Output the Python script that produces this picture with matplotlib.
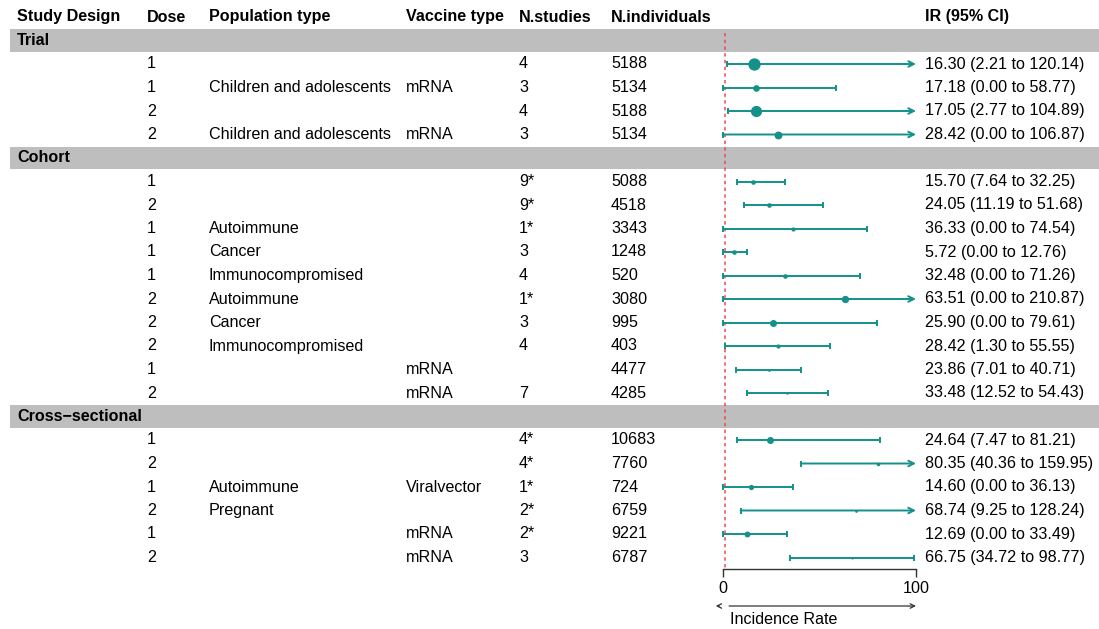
import matplotlib
matplotlib.use('Agg')
import matplotlib.pyplot as plt
import numpy as np

plt.rcParams['font.family'] = ['Liberation Sans', 'DejaVu Sans']

# ---------------- data ----------------
headers = ['Study Design', 'Dose', 'Population type', 'Vaccine type',
           'N.studies', 'N.individuals', 'IR (95% CI)']
groups = ['Trial', 'Cohort', 'Cross\u2212sectional']
group_sizes = [4, 10, 6]

dose = [1, 1, 2, 2,
        1, 2, 1, 1, 1, 2, 2, 2, 1, 2,
        1, 2, 1, 2, 1, 2]
population = ['', 'Children and adolescents', '', 'Children and adolescents',
              '', '', 'Autoimmune', 'Cancer', 'Immunocompromised',
              'Autoimmune', 'Cancer', 'Immunocompromised', '', '',
              '', '', 'Autoimmune', 'Pregnant', '', '']
vaccine = ['', 'mRNA', '', 'mRNA',
           '', '', '', '', '', '', '', '', 'mRNA', 'mRNA',
           '', '', 'Viralvector', '', 'mRNA', 'mRNA']
n_studies = ['4', '3', '4', '3',
             '9*', '9*', '1*', '3', '4', '1*', '3', '4', '', '7',
             '4*', '4*', '1*', '2*', '2*', '3']
n_individuals = [5188, 5134, 5188, 5134,
                 5088, 4518, 3343, 1248, 520, 3080, 995, 403, 4477, 4285,
                 10683, 7760, 724, 6759, 9221, 6787]
ir = [16.30, 17.18, 17.05, 28.42,
      15.70, 24.05, 36.33, 5.72, 32.48, 63.51, 25.90, 28.42, 23.86, 33.48,
      24.64, 80.35, 14.60, 68.74, 12.69, 66.75]
ci_low = [2.21, 0.00, 2.77, 0.00,
          7.64, 11.19, 0.00, 0.00, 0.00, 0.00, 0.00, 1.30, 7.01, 12.52,
          7.47, 40.36, 0.00, 9.25, 0.00, 34.72]
ci_high = [120.14, 58.77, 104.89, 106.87,
           32.25, 51.68, 74.54, 12.76, 71.26, 210.87, 79.61, 55.55, 40.71, 54.43,
           81.21, 159.95, 36.13, 128.24, 33.49, 98.77]
# relative weights (read from point areas)
weights = [34, 10, 28, 14,
           4.8, 4.8, 4.0, 4.8, 4.8, 12, 11, 4.0, 1.7, 1.4,
           11, 2.9, 6.3, 1.6, 7.8, 1.0]
xticks = [0, 100]
ref_value = 1
xlabel = 'Incidence Rate'

# ---------------- layout ----------------
W, H = 1099, 629
fig = plt.figure(figsize=(W / 100, H / 100), dpi=100)
pitch = 23.5
y0 = 17.0
ytop = -y0 / pitch
ybot = (H - y0) / pitch

teal = '#13918a'
fs = 11.6

# row index assignment
group_rows = []
data_rows = []
i = 1
for g, n in zip(groups, group_sizes):
    group_rows.append(i)
    i += 1
    for _ in range(n):
        data_rows.append(i)
        i += 1

# background axes (full figure)
bg = fig.add_axes([0, 0, 1, 1])
bg.set_xlim(0, 1)
bg.set_ylim(ybot, ytop)
bg.axis('off')

for r in group_rows:
    bg.axhspan(r - 0.48, r + 0.48, xmin=10 / W, xmax=1, color='#bebebe', lw=0, zorder=0)

col_x = [17 / W, 147 / W, 209 / W, 406 / W, 519 / W, 611 / W, 925 / W]
for cx, h in zip(col_x, headers):
    bg.text(cx, 0, h, fontsize=fs, fontweight='bold', va='center', ha='left')
for r, g in zip(group_rows, groups):
    bg.text(col_x[0], r, g, fontsize=fs, fontweight='bold', va='center', ha='left')

for k, r in enumerate(data_rows):
    vals = [str(dose[k]), population[k], vaccine[k], n_studies[k], str(n_individuals[k]),
            f'{ir[k]:.2f} ({ci_low[k]:.2f} to {ci_high[k]:.2f})']
    for cx, v in zip(col_x[1:], vals):
        if v:
            bg.text(cx, r, v, fontsize=fs, va='center', ha='left')

# forest axes
x0px, x1px = 722.7, 916.0
axis_px = 569.0
ax = fig.add_axes([x0px / W, (H - axis_px) / H, (x1px - x0px) / W, axis_px / H])
ax.patch.set_visible(False)
ax.set_xlim(0, 100)
ax.set_ylim((axis_px - y0) / pitch, ytop)
for s in ['left', 'right', 'top']:
    ax.spines[s].set_visible(False)
ax.spines['bottom'].set_color('#333333')
ax.spines['bottom'].set_linewidth(1.0)
ax.set_yticks([])
ax.set_xticks(xticks)
ax.set_xticklabels([str(t) for t in xticks], fontsize=fs)
ax.tick_params(axis='x', length=5.8, width=1.0, color='#333333', pad=2.5)

ax.vlines(ref_value, 0.68, (axis_px - y0) / pitch - 0.05, colors='#f04650',
          linestyles=(0, (2.2, 2.2)), lw=1.1, zorder=1)

lw = 1.4
for k, r in enumerate(data_rows):
    lo = max(ci_low[k], 0)
    hi = ci_high[k]
    if hi > 100:
        ax.annotate('', xy=(100, r), xytext=(lo, r),
                    arrowprops=dict(arrowstyle='->', color=teal, lw=lw,
                                    shrinkA=0, shrinkB=0, mutation_scale=10),
                    annotation_clip=False, zorder=3)
    else:
        ax.hlines(r, lo, hi, colors=teal, lw=lw, zorder=3)
        ax.plot([hi], [r], marker='|', ms=5, mew=lw, color=teal, zorder=3, clip_on=False)
    ax.plot([lo], [r], marker='|', ms=5, mew=lw, color=teal, zorder=3, clip_on=False)
    ax.plot([ir[k]], [r], marker='o', ms=2 * np.sqrt(weights[k]) * 0.76,
            color=teal, mew=0, zorder=4, clip_on=False)

# x label with arrows
ya = (606 - y0) / pitch
ax.annotate('', xy=(100, ya), xytext=(3.3, ya),
            arrowprops=dict(arrowstyle='->', color='#333333', lw=0.9,
                            shrinkA=0, shrinkB=0, mutation_scale=8),
            annotation_clip=False)
ax.annotate('', xy=(-3.6, ya), xytext=(-1.6, ya),
            arrowprops=dict(arrowstyle='->', color='#333333', lw=0.9,
                            shrinkA=0, shrinkB=0, mutation_scale=8),
            annotation_clip=False)
ax.text(3.8, (620 - y0) / pitch, xlabel, fontsize=fs, va='center', ha='left',
        clip_on=False)

fig.savefig('out.png', dpi=100)
